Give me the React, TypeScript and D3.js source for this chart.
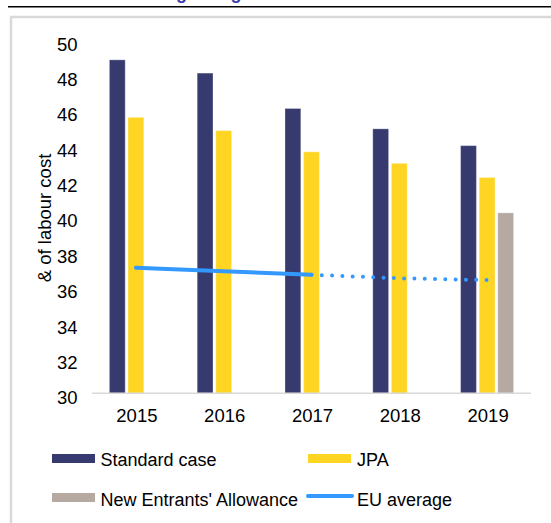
import React from 'react';
import * as d3 from 'd3';

const years = ['2015', '2016', '2017', '2018', '2019'];
const standardCase = [48.85, 48.1, 46.1, 44.95, 44.0];
const jpa = [45.6, 44.85, 43.65, 43.0, 42.2];
const newEntrants: (number | null)[] = [null, null, null, null, 40.2];
const euAverage = [37.1, 36.9, 36.7, 36.5, 36.4];
const euActualUntil = '2017';
const yTicks = [30, 32, 34, 36, 38, 40, 42, 44, 46, 48, 50];

const seriesKeys = ['standard', 'jpa', 'nea'];
const seriesNames = ['Standard case', 'JPA', "New Entrants' Allowance", 'EU average'];
const colors: Record<string, string> = {
  standard: '#363a6f',
  jpa: '#ffd524',
  nea: '#b6a9a1',
  eu: '#3399ff',
};

const W = 551;
const H = 523;
const FONT = 'Liberation Sans, Arial, sans-serif';

export default function App() {
  const x0 = d3.scaleBand<string>().domain(years).range([92, 531]).paddingInner(0.396).paddingOuter(0.198);
  const x1 = d3.scaleBand<string>().domain(seriesKeys).range([0, x0.bandwidth()]).paddingInner(0.15);
  const y = d3.scaleLinear().domain([30, 50]).range([393.3, 39.5]);

  const valuesByKey: Record<string, (number | null)[]> = {
    standard: standardCase,
    jpa: jpa,
    nea: newEntrants,
  };

  const cx = (yr: string) => (x0(yr) ?? 0) + x0.bandwidth() / 2;
  const euPts = years.map((yr, i) => ({ yr, v: euAverage[i] }));
  const splitIdx = years.indexOf(euActualUntil);
  const line = d3
    .line<{ yr: string; v: number }>()
    .x((d) => cx(d.yr))
    .y((d) => y(d.v));
  const solid = line(euPts.slice(0, splitIdx + 1)) || '';
  const dotted = line(euPts.slice(splitIdx)) || '';

  const baseY = y(30);

  return (
    <svg
      width={W}
      height={H}
      style={{ position: 'absolute', left: 0, top: 0, background: '#fff' }}
      fontFamily={FONT}
    >
      {/* clipped title remnants */}
      <text x={181.5} y={-1} fontSize={18} fontWeight="bold" fill="#3a3aae" textAnchor="middle">g</text>
      <text x={236} y={-1} fontSize={18} fontWeight="bold" fill="#3a3aae" textAnchor="middle">g</text>
      <line x1={8} x2={W} y1={6.7} y2={6.7} stroke="#000" strokeWidth={1.4} />
      {/* frame */}
      <path d={`M11,${H} V17 H${W}`} fill="none" stroke="#d9d9d9" strokeWidth={2.5} />

      {/* y tick labels */}
      {yTicks.map((t) => (
        <text key={t} x={77.5} y={y(t) + 11} fontSize={18.5} textAnchor="end" fill="#000">
          {t}
        </text>
      ))}
      <text
        transform={`translate(50.5, 218) rotate(-90)`}
        fontSize={18.5}
        textAnchor="middle"
        fill="#000"
      >
        & of labour cost
      </text>

      {/* bars */}
      {years.map((yr, i) => (
        <g key={yr} transform={`translate(${x0(yr)},0)`}>
          {seriesKeys.map((k) => {
            const v = valuesByKey[k][i];
            if (v == null) return null;
            return (
              <rect
                key={k}
                x={x1(k)}
                y={y(v)}
                width={x1.bandwidth()}
                height={baseY - y(v)}
                fill={colors[k]}
                stroke="rgba(255,255,255,0.3)"
                strokeWidth={1}
              />
            );
          })}
        </g>
      ))}

      {/* x axis */}
      <line x1={92} x2={531} y1={baseY} y2={baseY} stroke="#d9d9d9" strokeWidth={1.6} />
      {years.map((yr) => (
        <text key={yr} x={cx(yr) + 1} y={422.3} fontSize={18.5} textAnchor="middle" fill="#000">
          {yr}
        </text>
      ))}

      {/* EU average line */}
      <path d={solid} fill="none" stroke={colors.eu} strokeWidth={4} strokeLinecap="round" />
      <path
        d={dotted}
        fill="none"
        stroke={colors.eu}
        strokeWidth={4}
        strokeLinecap="round"
        strokeDasharray="0 10.3"
      />

      {/* legend */}
      <rect x={52} y={454} width={43} height={9} fill={colors.standard} />
      <text x={100.5} y={466} fontSize={18} fill="#000">{seriesNames[0]}</text>
      <rect x={308} y={454} width={43} height={9} fill={colors.jpa} />
      <text x={357} y={466} fontSize={18} fill="#000">{seriesNames[1]}</text>
      <rect x={52} y={493} width={43} height={9} fill={colors.nea} />
      <text x={100.5} y={505.7} fontSize={18} fill="#000">{seriesNames[2]}</text>
      <line x1={308} x2={352} y1={496} y2={496} stroke={colors.eu} strokeWidth={4} strokeLinecap="round" />
      <text x={357} y={505.7} fontSize={18} fill="#000">{seriesNames[3]}</text>
    </svg>
  );
}
